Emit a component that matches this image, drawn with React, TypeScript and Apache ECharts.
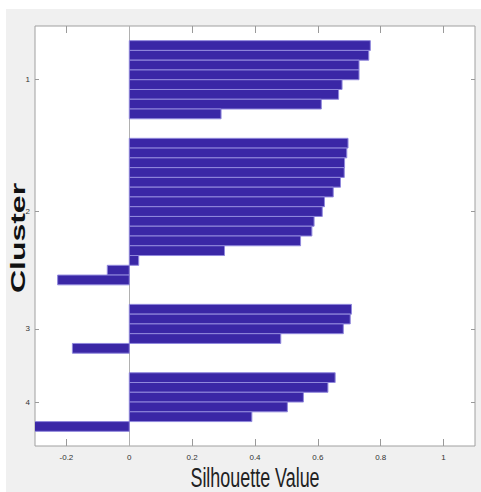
import React, { useEffect, useRef } from "react";
import * as echarts from "echarts";

// ---- data ----
const clusterNames = ["1", "2", "3", "4"];
const cluster1 = [0.767, 0.762, 0.731, 0.731, 0.677, 0.666, 0.611, 0.292];
const cluster2 = [0.696, 0.692, 0.685, 0.684, 0.672, 0.649, 0.621, 0.614, 0.588, 0.581, 0.545, 0.303, 0.03, -0.07, -0.228];
const cluster3 = [0.707, 0.703, 0.681, 0.482, -0.181];
const cluster4 = [0.655, 0.632, 0.554, 0.503, 0.39, -0.32];
const clusters = [cluster1, cluster2, cluster3, cluster4];
const xTicks = [-0.2, 0, 0.2, 0.4, 0.6, 0.8, 1];
const xMin = -0.3;
const xMax = 1.1;

const EDGE = 1.5;
const GAP = 2;

export default function App() {
  const ref = useRef<HTMLDivElement>(null);
  useEffect(() => {
    if (!ref.current) return;
    const chart = echarts.init(ref.current, null, { renderer: "svg" });

    const barData: number[][] = [];
    const centers: number[] = [];
    let pos = EDGE;
    clusters.forEach((c, ci) => {
      const start = pos;
      c.forEach((v) => {
        barData.push([v, pos]);
        pos += 1;
      });
      centers.push((start + pos) / 2);
      if (ci < clusters.length - 1) pos += GAP;
    });
    const yMax = pos + EDGE;
    const labelFor = (val: number) => {
      const i = centers.findIndex((c) => Math.abs(c - val) < 1e-6);
      return i >= 0 ? clusterNames[i] : "";
    };

    const tickColor = "#9a9a9a";
    const labelFont = { fontSize: 8, color: "#333", fontFamily: "Liberation Sans" };

    chart.setOption({
      animation: false,
      backgroundColor: "#f0f0f0",
      grid: {
        left: 29,
        top: 17,
        right: 6,
        bottom: 46,
        show: true,
        backgroundColor: "#ffffff",
        borderColor: "#a0a0a0",
        borderWidth: 1,
      },
      xAxis: [
        {
          type: "value",
          min: xMin,
          max: xMax,
          position: "bottom",
          splitLine: { show: false },
          axisLine: { show: false, onZero: false },
          axisTick: { show: true, inside: true, length: 7, customValues: xTicks, lineStyle: { color: tickColor } },
          axisLabel: { ...labelFont, margin: 7, customValues: xTicks, formatter: (v: number) => String(v) },
        },
        {
          type: "value",
          min: xMin,
          max: xMax,
          position: "top",
          splitLine: { show: false },
          axisLine: { show: false, onZero: false },
          axisTick: { show: true, inside: true, length: 7, customValues: xTicks, lineStyle: { color: tickColor } },
          axisLabel: { show: false },
        },
      ],
      yAxis: [
        {
          type: "value",
          min: 0,
          max: yMax,
          inverse: true,
          position: "left",
          splitLine: { show: false },
          axisLine: { show: false, onZero: false },
          axisTick: { show: true, inside: true, length: 4, customValues: centers, lineStyle: { color: tickColor } },
          axisLabel: { ...labelFont, margin: 5, customValues: centers, formatter: labelFor },
        },
        {
          type: "value",
          min: 0,
          max: yMax,
          inverse: true,
          position: "right",
          splitLine: { show: false },
          axisLine: { show: false, onZero: false },
          axisTick: { show: true, inside: true, length: 4, customValues: centers, lineStyle: { color: tickColor } },
          axisLabel: { show: false },
        },
      ],
      series: [
        {
          type: "custom",
          xAxisIndex: 0,
          yAxisIndex: 0,
          clip: true,
          z: 10,
          encode: { x: 0, y: 1 },
          data: barData,
          renderItem: (params: any, api: any) => {
            const v = api.value(0);
            const y0 = api.value(1);
            const a = api.coord([0, y0]);
            const b = api.coord([v, y0 + 1]);
            return {
              type: "rect",
              shape: {
                x: Math.min(a[0], b[0]),
                y: Math.min(a[1], b[1]),
                width: Math.abs(b[0] - a[0]),
                height: Math.abs(b[1] - a[1]),
              },
              style: { fill: "#3a27a6", stroke: "#9088dc", lineWidth: 1 },
            };
          },
          markLine: {
            silent: true,
            z: 1,
            symbol: ["none", "none"],
            label: { show: false },
            lineStyle: { color: "#b0b0b0", type: "solid", width: 1 },
            data: [{ xAxis: 0 }],
          },
        },
      ],
      graphic: [
        {
          type: "text",
          x: 12,
          y: 229,
          rotation: Math.PI / 2,
          scaleX: 1.6,
          style: {
            text: "Cluster",
            font: "bold 20px 'Liberation Sans'",
            fill: "#111",
            align: "center",
            verticalAlign: "middle",
          },
        },
        {
          type: "text",
          x: 249,
          y: 468,
          scaleX: 0.64,
          style: {
            text: "Silhouette Value",
            font: "28px 'Liberation Sans'",
            fill: "#222",
            align: "center",
            verticalAlign: "middle",
          },
        },
      ],
    });
    return () => chart.dispose();
  }, []);

  return (
    <div
      ref={ref}
      style={{ position: "absolute", left: 6, top: 9, width: 475, height: 483 }}
    />
  );
}
